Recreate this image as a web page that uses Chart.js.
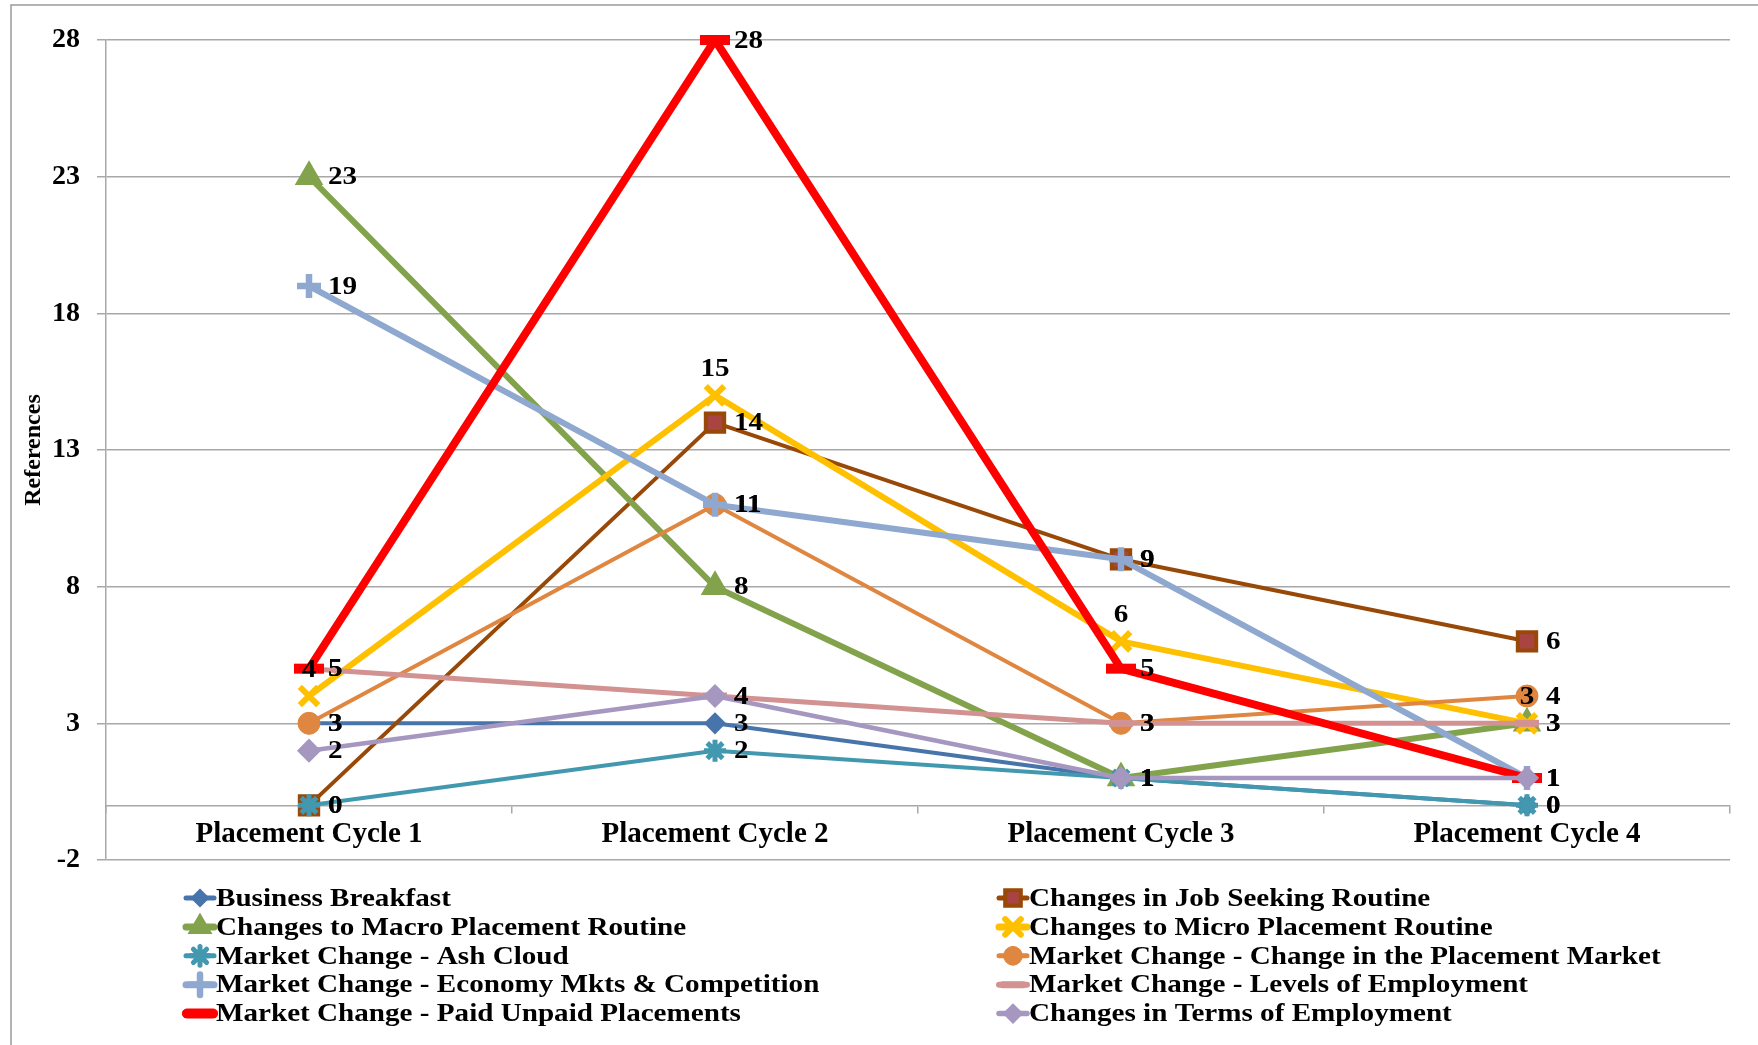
<!DOCTYPE html>
<html>
<head>
<meta charset="utf-8">
<title>References per Placement Cycle</title>
<script src="https://cdn.jsdelivr.net/npm/chart.js@4.4.1/dist/chart.umd.min.js"></script>
<style>
  html, body { margin: 0; padding: 0; background: #ffffff; }
  #wrap { position: relative; width: 1758px; height: 1045px; }
  canvas { display: block; }
</style>
</head>
<body>
<div id="wrap"><canvas id="chart" width="1758" height="1045"></canvas></div>
<script>
// ---- data ----
const categories = ['Placement Cycle 1', 'Placement Cycle 2', 'Placement Cycle 3', 'Placement Cycle 4'];
const yTicks = [-2, 3, 8, 13, 18, 23, 28];

const businessBreakfast     = [3, 3, 1, 0];
const jobSeekingRoutine     = [0, 14, 9, 6];
const macroPlacementRoutine = [23, 8, 1, 3];
const microPlacementRoutine = [4, 15, 6, 3];
const ashCloud              = [0, 2, 1, 0];
const placementMarket       = [3, 11, 3, 4];
const economyCompetition    = [19, 11, 9, 1];
const levelsOfEmployment    = [5, 4, 3, 3];
const paidUnpaidPlacements  = [5, 28, 5, 1];
const termsOfEmployment     = [2, 4, 1, 1];

const seriesNames = [
  'Business Breakfast',
  'Changes in Job Seeking Routine',
  'Changes to Macro Placement Routine',
  'Changes to Micro Placement Routine',
  'Market Change - Ash Cloud',
  'Market Change - Change in the Placement Market',
  'Market Change - Economy Mkts & Competition',
  'Market Change - Levels of Employment',
  'Market Change - Paid Unpaid Placements',
  'Changes in Terms of Employment'
];
const seriesValues = [
  businessBreakfast, jobSeekingRoutine, macroPlacementRoutine, microPlacementRoutine,
  ashCloud, placementMarket, economyCompetition, levelsOfEmployment,
  paidUnpaidPlacements, termsOfEmployment
];

// ---- styles ----
const FONT = '"Liberation Serif", "Times New Roman", serif';
const TEXT_STRETCH = 1.12;
const seriesStyles = [
  { color: '#4774AA', fill: '#4774AA', width: 4,   point: 'rectRot',  radius: 10, pbw: 1.5 },
  { color: '#984807', fill: '#A94442', width: 4,   point: 'rect',     radius: 13, pbw: 4 },
  { color: '#82A34C', fill: '#82A34C', width: 6,   point: 'triangle', radius: 14, pbw: 2.5 },
  { color: '#FFC000', fill: '#FFC000', width: 6,   point: 'crossRot', radius: 13, pbw: 6, above: true },
  { color: '#4198AF', fill: '#4198AF', width: 4,   point: 'star',     radius: 11, pbw: 5 },
  { color: '#DF8640', fill: '#DF8640', width: 4,   point: 'circle',   radius: 11, pbw: 1 },
  { color: '#8FA8CF', fill: '#8FA8CF', width: 6,   point: 'cross',    radius: 12, pbw: 6.5 },
  { color: '#D19291', fill: '#D19291', width: 5,   point: 'line',     radius: 12, pbw: 7 },
  { color: '#FF0000', fill: '#FF0000', width: 8,   point: 'line',     radius: 15, pbw: 10 },
  { color: '#A597C0', fill: '#A597C0', width: 4.5, point: 'rectRot',  radius: 11, pbw: 1.5 }
];

const datasets = seriesNames.map((name, i) => {
  const s = seriesStyles[i];
  return {
    label: name,
    data: seriesValues[i],
    borderColor: s.color,
    backgroundColor: s.fill,
    borderWidth: s.width,
    borderJoinStyle: 'round',
    borderCapStyle: 'round',
    pointStyle: s.point,
    pointRadius: s.radius,
    pointBorderWidth: s.pbw,
    pointBorderColor: s.color,
    pointBackgroundColor: s.fill,
    tension: 0,
    clip: false,
    labelAbove: !!s.above,
    order: seriesNames.length - i
  };
});

// ---- plugins ----
// white background and the top / left edges of the chart border
const framePlugin = {
  id: 'frame',
  beforeDraw(chart) {
    const ctx = chart.ctx;
    ctx.save();
    ctx.fillStyle = '#ffffff';
    ctx.fillRect(0, 0, chart.width, chart.height);
    ctx.strokeStyle = '#9a9a9a';
    ctx.lineWidth = 1.5;
    ctx.beginPath();
    ctx.moveTo(11, chart.height);
    ctx.lineTo(11, 5);
    ctx.lineTo(chart.width, 5);
    ctx.stroke();
    ctx.restore();
  }
};

function stretchedText(ctx, text, x, y, align) {
  ctx.save();
  ctx.translate(x, y);
  ctx.scale(TEXT_STRETCH, 1);
  ctx.textAlign = align;
  ctx.fillText(text, 0, 0);
  ctx.restore();
}

// value labels next to every point
const valueLabelPlugin = {
  id: 'valueLabels',
  afterDatasetsDraw(chart) {
    const ctx = chart.ctx;
    ctx.save();
    ctx.font = 'bold 26px ' + FONT;
    ctx.fillStyle = '#000000';
    ctx.textBaseline = 'middle';
    chart.data.datasets.forEach((ds, di) => {
      const meta = chart.getDatasetMeta(di);
      meta.data.forEach((pt, j) => {
        const txt = String(ds.data[j]);
        if (ds.labelAbove) {
          stretchedText(ctx, txt, pt.x, pt.y - 26, 'center');
        } else {
          stretchedText(ctx, txt, pt.x + 19, pt.y + 1, 'left');
        }
      });
    });
    ctx.restore();
  }
};

// two-column legend below the plot
const legendPlugin = {
  id: 'twoColumnLegend',
  afterDraw(chart) {
    const ctx = chart.ctx;
    const area = chart.chartArea;
    const colX = [area.left + 77, area.left + 890];
    const top = area.bottom + 38;
    const rowH = 28.9;
    ctx.save();
    chart.data.datasets.forEach((ds, i) => {
      const x = colX[i % 2];
      const y = top + Math.floor(i / 2) * rowH;
      ctx.strokeStyle = ds.borderColor;
      ctx.lineWidth = Math.min(ds.borderWidth + 1, 8);
      ctx.lineCap = 'round';
      ctx.beginPath();
      ctx.moveTo(x + 3, y);
      ctx.lineTo(x + 31, y);
      ctx.stroke();
      ctx.fillStyle = ds.pointBackgroundColor;
      ctx.strokeStyle = ds.pointBorderColor;
      ctx.lineWidth = ds.pointBorderWidth;
      Chart.helpers.drawPoint(ctx, {
        pointStyle: ds.pointStyle,
        radius: ds.pointRadius * 0.85,
        rotation: 0,
        borderWidth: ds.pointBorderWidth
      }, x + 17, y);
      ctx.fillStyle = '#000000';
      ctx.font = 'bold 26px ' + FONT;
      ctx.textBaseline = 'middle';
      stretchedText(ctx, ds.label, x + 33, y + 1, 'left');
    });
    ctx.restore();
  }
};

const gridGray = '#a8a8a8';

new Chart(document.getElementById('chart'), {
  type: 'line',
  data: { labels: categories, datasets: datasets },
  options: {
    responsive: false,
    animation: false,
    events: [],
    layout: { padding: { top: 40, left: 0, right: 28, bottom: 185 } },
    plugins: {
      legend: { display: false },
      tooltip: { enabled: false },
      title: { display: false }
    },
    scales: {
      x: {
        type: 'category',
        offset: true,
        position: { y: 0 },
        afterFit(scale) { scale.height = 0; },
        grid: { drawOnChartArea: false, drawTicks: true, tickLength: 7, color: gridGray, lineWidth: 1.5, offset: true },
        border: { display: true, color: gridGray, width: 1.5 },
        ticks: { font: { family: FONT, size: 29, weight: 'bold' }, color: '#000000', padding: 5, maxRotation: 0, autoSkip: false }
      },
      y: {
        min: -2,
        max: 28,
        afterBuildTicks(scale) { scale.ticks = yTicks.map(v => ({ value: v })); },
        afterFit(scale) { scale.width = 106; },
        grid: { color: gridGray, lineWidth: 1.5, tickLength: 9, drawTicks: true },
        border: { display: true, color: gridGray, width: 1.5 },
        ticks: { font: { family: FONT, size: 28, weight: 'bold' }, color: '#000000', padding: 17 },
        title: {
          display: true,
          text: 'References',
          color: '#000000',
          font: { family: FONT, size: 24, weight: 'bold' },
          padding: { top: 19, bottom: 0 }
        }
      }
    }
  },
  plugins: [framePlugin, valueLabelPlugin, legendPlugin]
});
</script>
</body>
</html>
